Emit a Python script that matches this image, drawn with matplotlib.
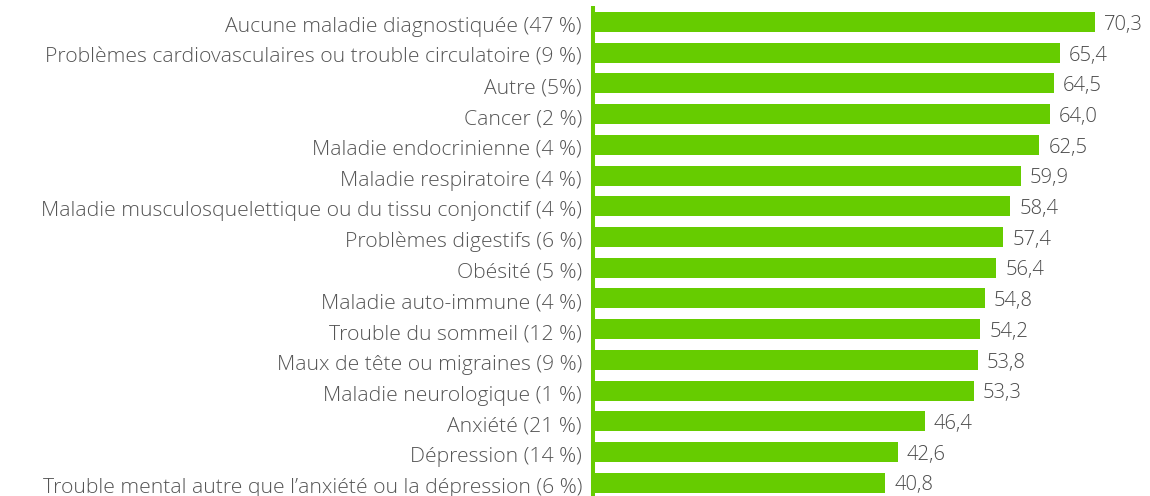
import matplotlib
matplotlib.use("Agg")
import matplotlib.pyplot as plt
import matplotlib.transforms as mtransforms

categories = [
    "Aucune maladie diagnostiquée (47 %)",
    "Problèmes cardiovasculaires ou trouble circulatoire (9 %)",
    "Autre (5%)",
    "Cancer (2 %)",
    "Maladie endocrinienne (4 %)",
    "Maladie respiratoire (4 %)",
    "Maladie musculosquelettique ou du tissu conjonctif (4 %)",
    "Problèmes digestifs (6 %)",
    "Obésité (5 %)",
    "Maladie auto-immune (4 %)",
    "Trouble du sommeil (12 %)",
    "Maux de tête ou migraines (9 %)",
    "Maladie neurologique (1 %)",
    "Anxiété (21 %)",
    "Dépression (14 %)",
    "Trouble mental autre que l’anxiété ou la dépression (6 %)",
]
values = [70.3, 65.4, 64.5, 64.0, 62.5, 59.9, 58.4, 57.4, 56.4, 54.8,
          54.2, 53.8, 53.3, 46.4, 42.6, 40.8]

GREEN = "#66cc00"
plt.rcParams["font.family"] = ["Open Sans", "DejaVu Sans"]
plt.rcParams["font.weight"] = "light"

fig = plt.figure(figsize=(11.5, 4.96), dpi=100)
ax = fig.add_axes([595 / 1150, 0, 1 - 595 / 1150, 1])

pos = list(range(len(values)))
ax.barh(pos, values, height=0.65, color=GREEN, linewidth=0)

for p, v in zip(pos, values):
    ax.annotate(f"{v:.1f}".replace(".", ","), (v, p), xytext=(6.5, -2),
                textcoords="offset points", va="center", ha="left",
                fontsize=14.6, color="#4a4a4a")

# axis line slightly left of zero
ax.vlines(-0.28, -0.52, 15.5, color=GREEN, linewidth=2.9, clip_on=False)

ax.set_xlim(0, 78.04)
ax.set_ylim(15.433, -0.717)
ax.set_yticks(pos)
ax.set_yticklabels(categories, fontsize=15.2, color="#555555")
ax.tick_params(axis="y", length=0, pad=9.4)
ax.set_xticks([])
for s in ax.spines.values():
    s.set_visible(False)

shift = mtransforms.ScaledTranslation(0, -0.025, fig.dpi_scale_trans)
for lbl in ax.get_yticklabels():
    lbl.set_transform(lbl.get_transform() + shift)

fig.savefig("out.png", dpi=100)
